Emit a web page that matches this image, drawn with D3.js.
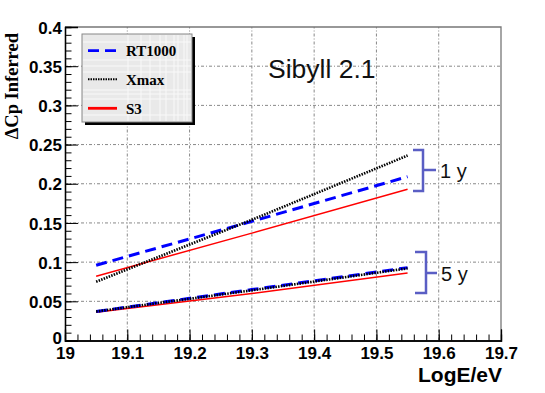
<!DOCTYPE html>
<html><head><meta charset="utf-8">
<script src="https://cdn.jsdelivr.net/npm/d3@7/dist/d3.min.js"></script>
<style>body{margin:0;background:#fff}svg{display:block}</style>
</head><body>
<svg id="c" width="545" height="393"></svg>
<script>
// ---- data ----
const logE = [19.05, 19.3, 19.55];
const rt1000_1y = [0.096, 0.152, 0.209];
const xmax_1y   = [0.075, 0.154, 0.236];
const s3_1y     = [0.082, 0.137, 0.193];
const rt1000_5y = [0.037, 0.065, 0.093];
const xmax_5y   = [0.037, 0.064, 0.092];
const s3_5y     = [0.036, 0.060, 0.086];
const xTicks = [19, 19.1, 19.2, 19.3, 19.4, 19.5, 19.6, 19.7];
const yTicks = [0, 0.05, 0.1, 0.15, 0.2, 0.25, 0.3, 0.35, 0.4];
const legendNames = ["RT1000", "Xmax", "S3"];
const groupLabels = ["1 y", "5 y"];

const svg = d3.select("#c");
const x = d3.scaleLinear().domain([19, 19.7]).range([65, 501]);
const y = d3.scaleLinear().domain([0, 0.4]).range([340.5, 27]);

// grid
const grid = svg.append("g").attr("stroke", "#888").attr("stroke-width", 1)
  .attr("stroke-dasharray", "3,2,1,2");
xTicks.slice(1, -1).forEach(t => grid.append("line")
  .attr("x1", x(t)).attr("x2", x(t)).attr("y1", y(0)).attr("y2", y(0.4)));
yTicks.slice(1, -1).forEach(t => grid.append("line")
  .attr("x1", x(19)).attr("x2", x(19.7)).attr("y1", y(t)).attr("y2", y(t)));

// frame top/right
svg.append("path").attr("d", `M${x(19)},${y(0.4)}H${x(19.7)}V${y(0)}`)
  .attr("fill", "none").attr("stroke", "#777").attr("stroke-width", 1.3);

// axes
const fontTick = "bold 17px 'Liberation Sans', Arial, sans-serif";
const yMinor = d3.range(0, 0.4001, 0.01);
const xMinor = d3.range(19, 19.7001, 0.02);
const gy = svg.append("g").attr("transform", `translate(${x(19)},0)`);
gy.call(d3.axisLeft(y).tickValues(yMinor).tickSize(-6.5).tickFormat(""));
const gy2 = svg.append("g").attr("transform", `translate(${x(19)},0)`);
gy2.call(d3.axisLeft(y).tickValues(yTicks).tickSize(-13)
  .tickFormat(d => +d.toFixed(2)));
const gx = svg.append("g").attr("transform", `translate(0,${y(0)})`);
gx.call(d3.axisBottom(x).tickValues(xMinor).tickSize(-6).tickFormat(""));
const gx2 = svg.append("g").attr("transform", `translate(0,${y(0)})`);
gx2.call(d3.axisBottom(x).tickValues(xTicks).tickSize(-11)
  .tickFormat(d => +d.toFixed(1)));
[gy, gy2, gx, gx2].forEach(g => {
  g.select(".domain").attr("stroke", "#000").attr("stroke-width", 1.3);
  g.selectAll(".tick line").attr("stroke", "#000");
  g.selectAll("text").style("font", fontTick).attr("fill", "#000");
});
gy2.selectAll(".tick text").attr("text-anchor", "end").attr("x", -3).attr("dy", "0.36em")
  .attr("y", d => d === 0 ? -3 : 0);
gx2.selectAll(".tick text").attr("y", 18).attr("dy", "0");

// axis titles
svg.append("text").attr("x", 502).attr("y", 382).attr("text-anchor", "end")
  .style("font", "bold 21px 'Liberation Sans', Arial, sans-serif").text("LogE/eV");
svg.append("text").attr("transform", "translate(18,33) rotate(-90)")
  .attr("text-anchor", "end")
  .style("font", "bold 18.5px 'Liberation Serif', 'Times New Roman', serif").text("ΔCp Inferred");

// series
const styles = [
  {color: "#0000ff", width: 3, dash: "11,6"},
  {color: "#000", width: 2.6, dash: "1.5,1.2"},
  {color: "#ff0000", width: 1.5, dash: null}
];
const line = d3.line().x(d => x(d[0])).y(d => y(d[1]));
const series = [
  [rt1000_1y, 0], [xmax_1y, 1], [s3_1y, 2],
  [rt1000_5y, 0], [xmax_5y, 1], [s3_5y, 2]
];
const drawOrder = [2, 0, 1, 5, 3, 4];
drawOrder.forEach(i => {
  const [vals, s] = series[i];
  const st = styles[s];
  svg.append("path").datum(logE.map((e, j) => [e, vals[j]]))
    .attr("d", line).attr("fill", "none").attr("stroke", st.color)
    .attr("stroke-width", st.width).attr("stroke-dasharray", st.dash);
});

// legend
const L = {x: 82, y: 34, w: 110, h: 88};
svg.append("rect").attr("x", L.x + 3).attr("y", L.y + 3).attr("width", L.w).attr("height", L.h).attr("fill", "#000");
svg.append("rect").attr("x", L.x).attr("y", L.y).attr("width", L.w).attr("height", L.h)
  .attr("fill", "#e9e9e9").attr("stroke", "#888").attr("stroke-width", 1);
const tex = svg.append("g").attr("stroke", "#fff").attr("stroke-width", 0.8).attr("opacity", 0.9);
[128, 141, 150, 160, 166, 174, 178, 184, 187].forEach(v => tex.append("line")
  .attr("x1", v).attr("x2", v).attr("y1", L.y + 1).attr("y2", L.y + L.h - 1));
[42, 60, 66, 72, 90, 94, 99, 115].forEach(v => tex.append("line")
  .attr("x1", L.x + 1).attr("x2", L.x + L.w - 1).attr("y1", v).attr("y2", v));
const legY = [50.7, 79.3, 108.3];
legendNames.forEach((n, i) => {
  const st = styles[i];
  svg.append("line").attr("x1", 88).attr("x2", 117).attr("y1", legY[i]).attr("y2", legY[i])
    .attr("stroke", st.color).attr("stroke-width", i === 1 ? 2 : 2.8)
    .attr("stroke-dasharray", i === 0 ? "11,6" : (i === 1 ? "1.5,1" : null));
  svg.append("text").attr("x", 126).attr("y", legY[i] + 5.5)
    .style("font", "bold 15px 'Liberation Serif', 'Times New Roman', serif").text(n);
});

// annotation
svg.append("text").attr("x", 268).attr("y", 78)
  .style("font", "26.5px 'Liberation Sans', Arial, sans-serif").attr("fill", "#111").text("Sibyll 2.1");
const bc = "#5a5ec4";
const brackets = [{t: 150, b: 191, x0: 413, x1: 423, tip: 436, m: 170}, {t: 252, b: 293, x0: 415, x1: 426, tip: 437, m: 273}];
brackets.forEach((k, i) => {
  svg.append("path").attr("d", `M${k.x0},${k.t}H${k.x1}V${k.b}H${k.x0}M${k.x1},${k.m}H${k.tip}`)
    .attr("fill", "none").attr("stroke", bc).attr("stroke-width", 2.5);
  svg.append("text").attr("x", k.tip + 4).attr("y", k.m + 7.5)
    .style("font", "20px 'Liberation Sans', Arial, sans-serif").attr("fill", "#111").text(groupLabels[i]);
});
</script>
</body></html>
